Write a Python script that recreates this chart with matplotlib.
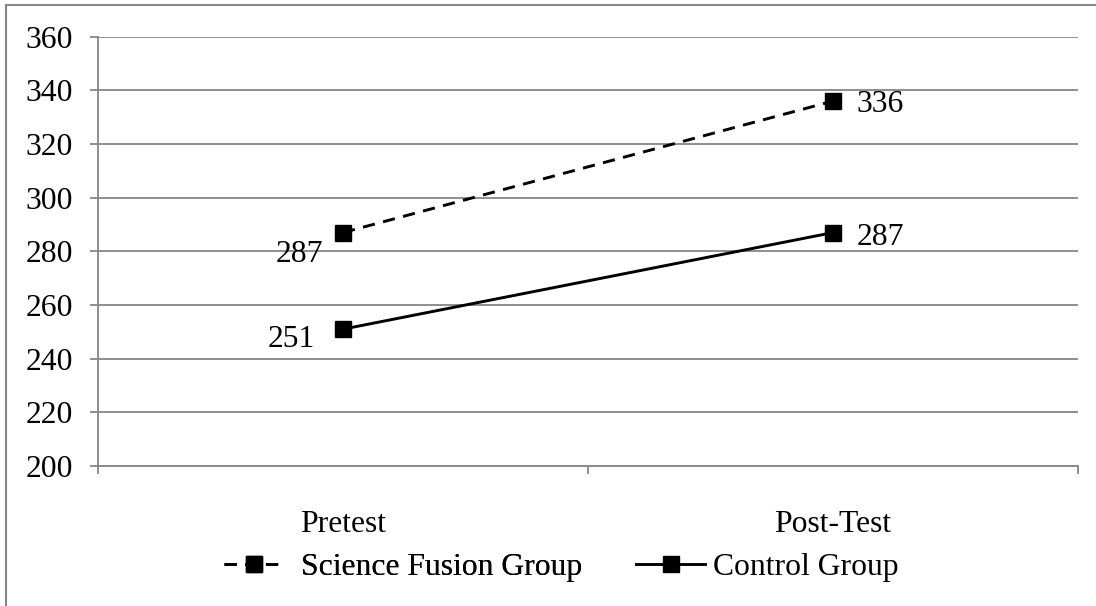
import matplotlib
matplotlib.use("Agg")
import matplotlib.pyplot as plt
from matplotlib.lines import Line2D

categories = ["Pretest", "Post-Test"]
science_fusion = [287, 336]
control = [251, 287]
series_names = ["Science Fusion Group", "Control Group"]
y_ticks = [200, 220, 240, 260, 280, 300, 320, 340, 360]

plt.rcParams['font.family'] = ['Liberation Serif', 'DejaVu Serif']
FS = 22.8
GRAY = '#868686'

fig = plt.figure(figsize=(10.96, 6.06), dpi=100)
ax = fig.add_axes([98/1096, 1-466/606, (1078-98)/1096, (466-36.7)/606])

x = list(range(len(categories)))
l1, = ax.plot(x, science_fusion, color='black', lw=2.1, linestyle=(0, (4.2, 2.9)),
              marker='s', markersize=11, label=series_names[0])
l2, = ax.plot(x, control, color='black', lw=2.1, linestyle='-',
              marker='s', markersize=11, label=series_names[1])

ax.set_xlim(-0.5, len(categories) - 0.5)
ax.set_ylim(y_ticks[0], y_ticks[-1])
ax.set_yticks(y_ticks)
ax.set_xticks(x)
ax.set_xticklabels(categories, fontsize=FS)
ax.tick_params(axis='x', which='major', length=0, pad=32)
ax.set_xticks([-0.5, 0.5, 1.5], minor=True)
ax.tick_params(axis='x', which='minor', length=6, width=1.3, color=GRAY, direction='out')
ax.tick_params(axis='y', length=6, width=1.3, color=GRAY, pad=12, labelsize=FS)

ax.grid(axis='y', color=GRAY, lw=1.3)
ax.set_axisbelow(True)
for s in ['top', 'right']:
    ax.spines[s].set_visible(False)
for s in ['left', 'bottom']:
    ax.spines[s].set_color(GRAY)
    ax.spines[s].set_linewidth(1.3)

# data labels
ax.annotate(str(science_fusion[1]), (x[1], science_fusion[1]), xytext=(17, 0),
            textcoords='offset points', ha='left', va='center_baseline', fontsize=FS)
ax.annotate(str(control[1]), (x[1], control[1]), xytext=(17, -1),
            textcoords='offset points', ha='left', va='center_baseline', fontsize=FS)
ax.annotate(str(science_fusion[0]), (x[0], science_fusion[0]), xytext=(-14, -13),
            textcoords='offset points', ha='right', va='center_baseline', fontsize=FS)
ax.annotate(str(control[0]), (x[0], control[0]), xytext=(-20, -5),
            textcoords='offset points', ha='right', va='center_baseline', fontsize=FS)

em = FS * 100 / 72  # pixels per em
leg_y = 1 - 567/606
leg1 = fig.legend(handles=[l1], loc='center left', bbox_to_anchor=(224/1096, leg_y),
                  frameon=False, fontsize=FS, borderpad=0, borderaxespad=0,
                  handlelength=59/em, handletextpad=18/em)
fig.add_artist(leg1)
leg2 = fig.legend(handles=[l2], loc='center left', bbox_to_anchor=(636/1096, leg_y),
                  frameon=False, fontsize=FS, borderpad=0, borderaxespad=0,
                  handlelength=69/em, handletextpad=8/em)

# figure border (left and top only visible)
fig.add_artist(Line2D([5.5/1096, 5.5/1096], [0, 1-5/606], transform=fig.transFigure,
                      color=GRAY, lw=1.5))
fig.add_artist(Line2D([5.5/1096, 1], [1-5/606, 1-5/606], transform=fig.transFigure,
                      color=GRAY, lw=1.5))

fig.savefig('out.png', dpi=100)
